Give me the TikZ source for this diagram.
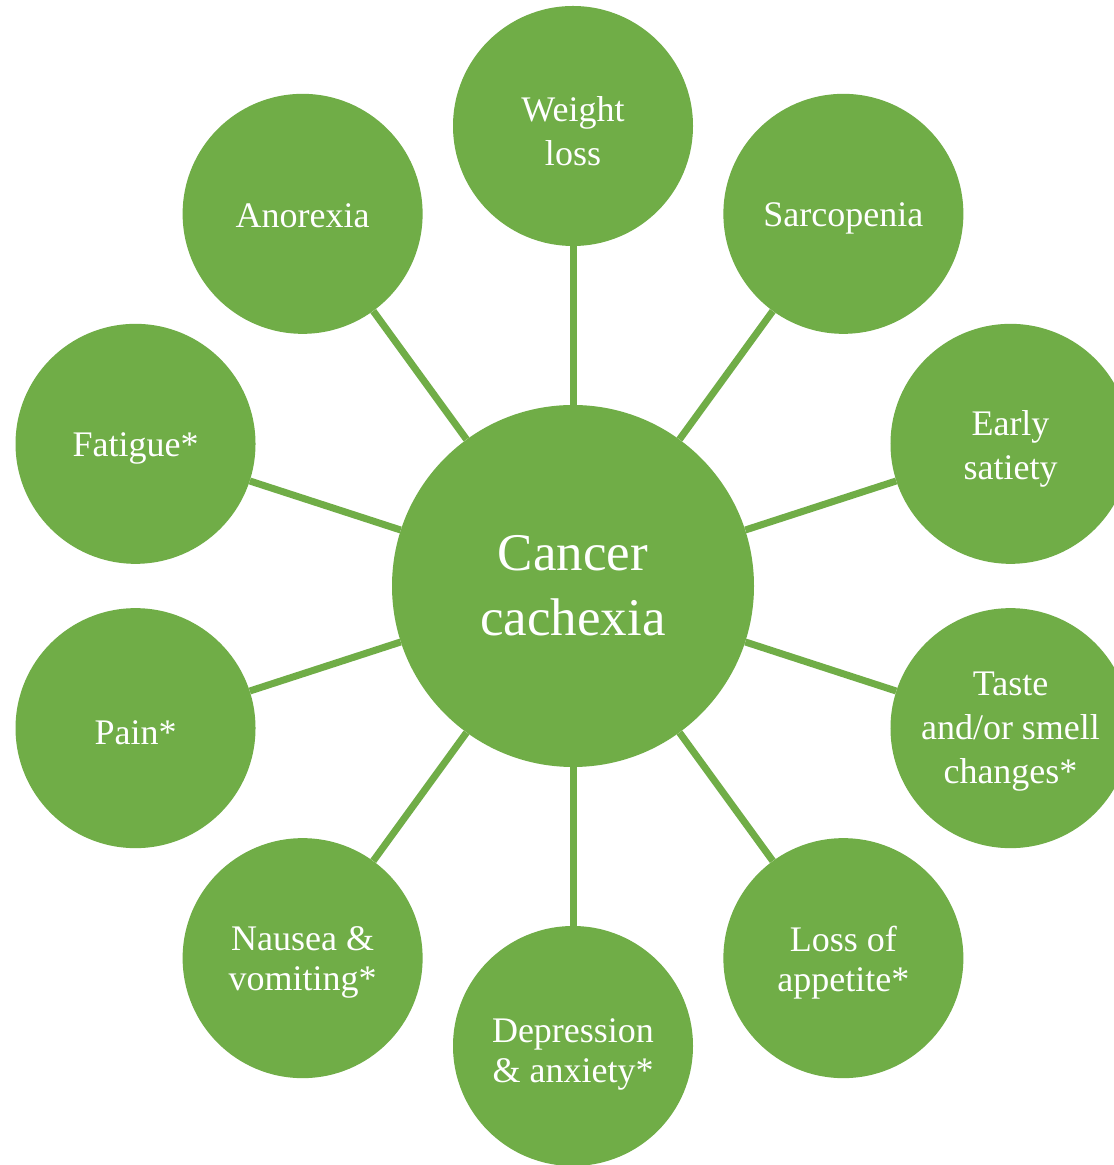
\documentclass[tikz,border=0pt]{standalone}
\usepackage{fontspec}
\setmainfont{Liberation Serif}
\usetikzlibrary{calc}
\definecolor{cgreen}{HTML}{70AD47}
\begin{document}
\begin{tikzpicture}[x=1pt,y=1pt,
  hub/.style={circle,fill=cgreen,text=white,minimum size=362pt,inner sep=0pt,align=center,font=\fontsize{53}{65}\selectfont},
  leaf/.style={circle,fill=cgreen,minimum size=240pt,inner sep=0pt},
  lbl/.style={text=white,align=center,inner sep=0pt,yshift=-5pt,font=\fontsize{36}{44}\selectfont},
  tight/.style={font=\fontsize{36}{40}\selectfont},
  link/.style={draw=cgreen,line width=7pt}]
\clip (0,0) rectangle (1114,1165);
\fill[white] (0,0) rectangle (1114,1165);
\coordinate (O) at (573,579);
\node[hub] (c) at (O) {Cancer\\cachexia};
\node[leaf,label={[lbl]center:{Weight\\loss}}] (n1) at ($(O)+(90:460)$) {};
\node[leaf,label={[lbl]center:{Sarcopenia}}] (n2) at ($(O)+(54:460)$) {};
\node[leaf,label={[lbl]center:{Early\\satiety}}] (n3) at ($(O)+(18:460)$) {};
\node[leaf,label={[lbl,yshift=2pt]center:{Taste\\and/or smell\\changes*}}] (n4) at ($(O)+(-18:460)$) {};
\node[leaf,label={[lbl,tight,yshift=0.5pt]center:{Loss of\\appetite*}}] (n5) at ($(O)+(-54:460)$) {};
\node[leaf,label={[lbl,tight,yshift=-3pt]center:{Depression\\\& anxiety*}}] (n6) at ($(O)+(-90:460)$) {};
\node[leaf,label={[lbl,tight,yshift=0.5pt]center:{Nausea \&\\vomiting*}}] (n7) at ($(O)+(-126:460)$) {};
\node[leaf,label={[lbl]center:{Pain*}}] (n8) at ($(O)+(-162:460)$) {};
\node[leaf,label={[lbl]center:{Fatigue*}}] (n9) at ($(O)+(162:460)$) {};
\node[leaf,label={[lbl,yshift=3pt]center:{Anorexia}}] (n10) at ($(O)+(126:460)$) {};
\foreach \i in {1,...,10} {\draw[link] (c) -- (n\i);}
\end{tikzpicture}
\end{document}
